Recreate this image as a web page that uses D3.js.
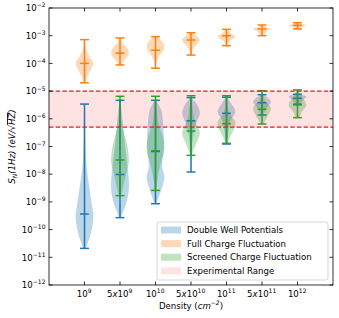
<!DOCTYPE html>
<html>
<head>
<meta charset="utf-8">
<script src="https://cdn.jsdelivr.net/npm/d3@7"></script>
<style>
  html, body { margin: 0; padding: 0; background: #fff; }
  svg text { font-family: 'DejaVu Sans', sans-serif; fill: #000; }
</style>
</head>
<body>
<div id="chart"></div>
<script>
// categories on the x axis (mantissa, exponent)
const positions = [1, 2, 3, 4, 5, 6, 7];
const tickLabels = [['', '9'], ['5x', '9'], ['', '10'], ['5x', '10'], ['', '11'], ['5x', '11'], ['', '12']];
const yTickExps = [-2, -3, -4, -5, -6, -7, -8, -9, -10, -11, -12];

// Double well potentials
const dwMax    = [3.4e-6, 4.65e-6, 4.65e-6, 5.8e-6, 6.0e-6, 7.4e-6, 7.7e-6];
const dwMedian = [3.65e-10, 9.75e-9, 6.6e-8, 8.5e-7, 1.58e-6, 3.8e-6, 5.5e-6];
const dwMin    = [2.1e-11, 2.7e-10, 8.6e-10, 1.2e-8, 1.23e-7, 1.37e-6, 3.2e-6];
// violin outline: [value, relative half width], top to bottom
const dwShape = [
  [[3.4e-6, 0.04], [1.2e-6, 0.06], [1.7e-7, 0.1], [2.5e-8, 0.2], [7.9e-9, 0.38], [1.17e-9, 0.75], [2.6e-10, 1.0], [5.4e-11, 0.6], [2.1e-11, 0.12]],
  [[4.65e-6, 0.04], [7.0e-7, 0.33], [1.7e-7, 0.5], [3.26e-8, 0.75], [9.4e-9, 0.95], [2.7e-9, 1.0], [9.1e-10, 0.7], [2.7e-10, 0.1]],
  [[4.65e-6, 0.05], [2.08e-6, 0.65], [7.0e-7, 0.85], [1.7e-7, 0.95], [6.6e-8, 0.9], [1.82e-8, 0.75], [7.9e-9, 1.0], [2.7e-9, 0.65], [8.6e-10, 0.08]],
  [[5.8e-6, 0.05], [4.8e-6, 0.3], [3.15e-6, 0.7], [1.62e-6, 1.0], [7.0e-7, 0.6], [3.07e-7, 0.3], [9.6e-8, 0.1], [1.2e-8, 0.02]],
  [[6.0e-6, 0.05], [3.7e-6, 0.5], [1.76e-6, 1.0], [9.1e-7, 0.5], [5.1e-7, 0.3], [1.23e-7, 0.05]],
  [[7.4e-6, 0.1], [5.6e-6, 0.7], [4.0e-6, 1.0], [2.67e-6, 0.6], [1.37e-6, 0.1]],
  [[7.7e-6, 0.3], [6.3e-6, 1.0], [4.8e-6, 0.6], [3.2e-6, 0.2]]
];

// Full charge fluctuation
const fcMax    = [7.2e-4, 8.3e-4, 9.2e-4, 1.28e-3, 1.7e-3, 2.43e-3, 2.95e-3];
const fcMedian = [1.0e-4, 2.35e-4, 3.0e-4, 7.0e-4, 1.0e-3, 1.75e-3, 2.37e-3];
const fcMin    = [2.0e-5, 8.8e-5, 6.7e-5, 2.0e-4, 4.35e-4, 1.0e-3, 1.75e-3];
const fcShape = [
  [[7.2e-4, 0.05], [3.05e-4, 0.2], [1.75e-4, 0.6], [1.0e-4, 1.0], [5.8e-5, 0.7], [3.3e-5, 0.3], [2.0e-5, 0.08]],
  [[8.3e-4, 0.1], [5.3e-4, 0.3], [3.6e-4, 0.8], [2.3e-4, 1.0], [1.5e-4, 0.7], [1.0e-4, 0.2], [8.8e-5, 0.08]],
  [[9.2e-4, 0.2], [7.0e-4, 0.6], [4.6e-4, 1.0], [3.05e-4, 0.9], [2.0e-4, 0.5], [1.15e-4, 0.15], [6.7e-5, 0.04]],
  [[1.28e-3, 0.2], [9.2e-4, 0.7], [7.0e-4, 1.0], [4.6e-4, 0.6], [3.05e-4, 0.2], [2.0e-4, 0.05]],
  [[1.7e-3, 0.15], [1.22e-3, 0.5], [1.0e-3, 0.9], [9.2e-4, 1.0], [6.1e-4, 0.3], [4.35e-4, 0.05]],
  [[2.43e-3, 0.15], [2.0e-3, 0.5], [1.75e-3, 1.0], [1.4e-3, 0.5], [1.0e-3, 0.1]],
  [[2.95e-3, 0.15], [2.64e-3, 0.5], [2.37e-3, 1.0], [2.0e-3, 0.5], [1.75e-3, 0.2]]
];

// Screened charge fluctuation (no value at 10^9)
const scPositions = [2, 3, 4, 5, 6, 7];
const scMax    = [6.5e-6, 6.5e-6, 6.8e-6, 6.8e-6, 1.03e-5, 1.1e-5];
const scMedian = [3.26e-8, 7.0e-8, 3.6e-7, 6.65e-7, 2.2e-6, 3.4e-6];
const scMin    = [1.68e-9, 2.6e-9, 4.8e-8, 1.3e-7, 6.5e-7, 1.1e-6];
const scShape = [
  [[6.5e-6, 0.04], [7.0e-7, 0.2], [9.6e-8, 0.85], [2.75e-8, 1.0], [1.1e-8, 0.7], [2.7e-9, 0.3], [1.68e-9, 0.1]],
  [[6.5e-6, 0.04], [7.0e-7, 0.3], [2.2e-7, 0.85], [7.5e-8, 1.0], [2.5e-8, 0.6], [6.2e-9, 0.2], [2.6e-9, 0.05]],
  [[6.8e-6, 0.04], [9.1e-7, 0.4], [3.07e-7, 1.0], [1.34e-7, 0.6], [6.3e-8, 0.2], [4.8e-8, 0.05]],
  [[6.8e-6, 0.04], [1.62e-6, 0.3], [7.7e-7, 1.0], [3.95e-7, 0.8], [2.2e-7, 0.4], [1.3e-7, 0.1]],
  [[1.03e-5, 0.05], [4.8e-6, 0.3], [2.45e-6, 1.0], [1.16e-6, 0.6], [6.5e-7, 0.15]],
  [[1.1e-5, 0.05], [5.6e-6, 0.6], [3.15e-6, 1.0], [1.8e-6, 0.5], [1.1e-6, 0.2]]
];

// Experimental range band
const expRange = [5e-7, 1e-5];

const series = [
  { name: 'Double Well Potentials', color: '#1f77b4', pos: positions, max: dwMax, med: dwMedian, min: dwMin, shape: dwShape },
  { name: 'Full Charge Fluctuation', color: '#ff7f0e', pos: positions, max: fcMax, med: fcMedian, min: fcMin, shape: fcShape },
  { name: 'Screened Charge Fluctuation', color: '#2ca02c', pos: scPositions, max: scMax, med: scMedian, min: scMin, shape: scShape }
];

const W = 339, H = 318;
const L = 49, R = 333, T = 8, B = 285;
const FS = 8.6;

const svg = d3.select('#chart').append('svg')
  .attr('width', W).attr('height', H);

const x = d3.scaleLinear().domain([0, 8]).range([L, R]);
const y = d3.scaleLog().domain([1e-12, 1e-2]).range([B, T]);
const halfW = x(0.25) - x(0);   // violin widths = 0.5
const capW = x(0.125) - x(0);

const plot = svg.append('g');

// violin bodies + min/max/median bars
series.forEach(s => {
  const g = plot.append('g');
  s.pos.forEach((p, i) => {
    const cx = x(p);
    const area = d3.area()
      .y(d => y(d[0]))
      .x0(d => cx - d[1] * halfW)
      .x1(d => cx + d[1] * halfW)
      .curve(d3.curveCatmullRom.alpha(0.5));
    g.append('path')
      .attr('d', area(s.shape[i]))
      .attr('fill', s.color)
      .attr('fill-opacity', 0.3);
  });
});

// experimental range
plot.append('rect')
  .attr('x', L).attr('width', R - L)
  .attr('y', y(expRange[1])).attr('height', y(expRange[0]) - y(expRange[1]))
  .attr('fill', '#ff0000').attr('fill-opacity', 0.11);

series.forEach(s => {
  const g = plot.append('g')
    .attr('stroke', s.color).attr('stroke-width', 1.5);
  s.pos.forEach((p, i) => {
    const cx = x(p);
    g.append('line').attr('x1', cx).attr('x2', cx).attr('y1', y(s.max[i])).attr('y2', y(s.min[i]));
    [s.max[i], s.min[i], s.med[i]].forEach(v => {
      g.append('line').attr('x1', cx - capW).attr('x2', cx + capW).attr('y1', y(v)).attr('y2', y(v));
    });
  });
});

expRange.forEach(v => {
  plot.append('line')
    .attr('x1', L).attr('x2', R).attr('y1', y(v)).attr('y2', y(v))
    .attr('stroke', '#f0141e').attr('stroke-width', 1.2)
    .attr('stroke-dasharray', '4.5 2.2');
});

// frame
svg.append('rect')
  .attr('x', L).attr('y', T).attr('width', R - L).attr('height', B - T)
  .attr('fill', 'none').attr('stroke', '#000').attr('stroke-width', 0.8);

// ticks (inward, all four sides)
const tickG = svg.append('g').attr('stroke', '#000').attr('stroke-width', 0.8);
positions.forEach(p => {
  tickG.append('line').attr('x1', x(p)).attr('x2', x(p)).attr('y1', B).attr('y2', B - 3.5);
  tickG.append('line').attr('x1', x(p)).attr('x2', x(p)).attr('y1', T).attr('y2', T + 3.5);
});
yTickExps.forEach(e => {
  const yy = y(Math.pow(10, e));
  tickG.append('line').attr('x1', L).attr('x2', L + 3.5).attr('y1', yy).attr('y2', yy);
  tickG.append('line').attr('x1', R).attr('x2', R - 3.5).attr('y1', yy).attr('y2', yy);
});

// y tick labels: 10^-n
yTickExps.forEach(e => {
  const t = svg.append('text')
    .attr('x', L - 3.5).attr('y', y(Math.pow(10, e)) + 3.2)
    .attr('text-anchor', 'end').attr('font-size', FS);
  t.append('tspan').text('10');
  t.append('tspan').attr('dy', -3.8).attr('font-size', FS * 0.7).text('\u2212' + (-e));
});

// x tick labels
positions.forEach((p, i) => {
  const [mant, ex] = tickLabels[i];
  const t = svg.append('text')
    .attr('x', x(p)).attr('y', B + 12)
    .attr('text-anchor', 'middle').attr('font-size', FS);
  if (mant) {
    t.append('tspan').text('5');
    t.append('tspan').attr('font-style', 'italic').text('x');
  }
  t.append('tspan').text('10');
  t.append('tspan').attr('dy', -3.8).attr('font-size', FS * 0.7).text(ex);
  t.append('tspan').attr('dy', 3.8).attr('font-size', FS * 0.7).text('\u200a');
});

// x axis label
const xl = svg.append('text')
  .attr('x', (L + R) / 2).attr('y', 309)
  .attr('text-anchor', 'middle').attr('font-size', FS);
xl.append('tspan').text('Density (');
xl.append('tspan').attr('font-style', 'italic').text('cm');
xl.append('tspan').attr('dy', -3.8).attr('font-size', FS * 0.7).attr('font-style', 'italic').text('\u22122');
xl.append('tspan').attr('dy', 3.8).text(')');

// y axis label
const yl = svg.append('text')
  .attr('transform', `translate(15,${(T + B) / 2}) rotate(-90)`)
  .attr('text-anchor', 'middle').attr('font-size', FS).attr('font-style', 'italic');
yl.append('tspan').text('S');
yl.append('tspan').attr('dy', 2).attr('font-size', FS * 0.7).text('N');
yl.append('tspan').attr('dy', -2).text('(1Hz) (eV/\u221A');
yl.append('tspan').attr('text-decoration', 'overline').text('HZ');
yl.append('tspan').text(')');

// legend
const lg = svg.append('g').attr('transform', 'translate(157,222)');
lg.append('rect')
  .attr('width', 171).attr('height', 58).attr('rx', 2)
  .attr('fill', '#fff').attr('fill-opacity', 0.8)
  .attr('stroke', '#ccc').attr('stroke-width', 0.8);
const legendItems = series.map(s => ({ name: s.name, color: s.color, op: 0.3 }))
  .concat([{ name: 'Experimental Range', color: '#ff0000', op: 0.11 }]);
legendItems.forEach((d, i) => {
  const yy = 8 + i * 13.6;
  lg.append('rect')
    .attr('x', 4).attr('y', yy - 3.5).attr('width', 20).attr('height', 7)
    .attr('fill', d.color).attr('fill-opacity', d.op);
  lg.append('text')
    .attr('x', 30).attr('y', yy + 3.1)
    .attr('font-size', FS).text(d.name);
});
</script>
</body>
</html>
